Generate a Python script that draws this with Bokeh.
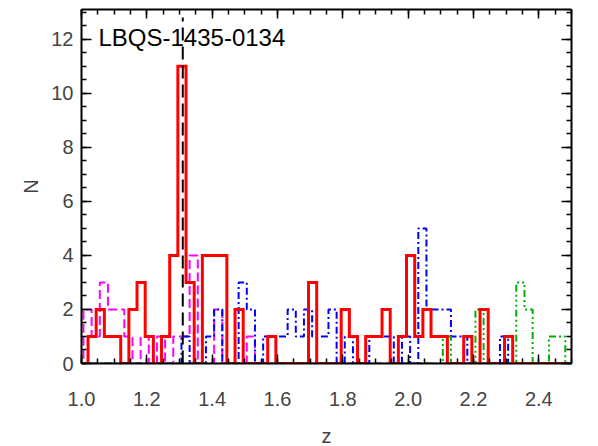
import numpy as np
from bokeh.plotting import figure
from bokeh.models import FixedTicker, LinearAxis, Range1d, Label
from bokeh.embed import file_html
from bokeh.resources import INLINE

# ---------------- data ----------------
bin_width = 0.025

# red (solid, thick) histogram: first bin starts at red_start
red_start = 0.995
red_counts = [0, 1, 2, 1, 1, 0, 2, 3, 1, 0, 1, 4, 11, 3, 0, 4, 4, 4, 0, 2,
              0, 0, 0, 1, 0, 0, 0, 0, 3, 0, 0, 0, 2, 1, 0, 1, 1, 2, 0, 1,
              4, 1, 2, 1, 1, 0, 0, 1, 0, 2, 0, 0, 1, 0, 0, 0, 0, 0, 0, 0, 0]

# magenta (dashed), blue (dash-dot), green (dash-dot-dot-dot) share a grid
grid_start = 0.981
magenta_counts = [0, 2, 1, 3, 2, 2, 1, 0, 1, 0, 1, 0, 1, 1, 4, 0, 0, 2, 0, 0,
                  0, 1, 0, 0, 0, 0, 0, 0, 0, 0, 0, 0, 0, 0, 0, 0, 0, 0, 0, 0,
                  0, 0, 0, 0, 0, 0, 0, 0, 0, 0, 0, 0, 0, 0, 0, 0, 0, 0, 0, 0, 0, 0]
blue_counts = [0, 0, 0, 0, 0, 0, 0, 0, 0, 0, 0, 0, 0, 1, 0, 0, 1, 2, 0, 0,
               3, 2, 0, 1, 1, 1, 2, 1, 2, 1, 1, 2, 0, 1, 0, 0, 1, 1, 1, 0,
               1, 0, 5, 2, 2, 2, 1, 1, 0, 0, 0, 0, 1, 0, 0, 0, 0, 0, 0, 0, 0, 0]
green_counts = [0, 0, 0, 0, 0, 0, 0, 0, 0, 0, 0, 0, 0, 0, 0, 0, 0, 0, 0, 0,
                0, 0, 0, 0, 0, 0, 0, 0, 0, 0, 0, 0, 0, 0, 0, 0, 0, 0, 0, 0,
                0, 0, 0, 0, 0, 1, 0, 0, 0, 2, 0, 0, 0, 0, 3, 2, 0, 0, 1, 1, 0, 0]

qso_name = "LBQS-1435-0134"
qso_z = 1.31
qso_line_top = 12.8

x_ticks = [1.0, 1.2, 1.4, 1.6, 1.8, 2.0, 2.2, 2.4]
x_tick_labels = ["1.0", "1.2", "1.4", "1.6", "1.8", "2.0", "2.2", "2.4"]
y_ticks = [0, 2, 4, 6, 8, 10, 12]
y_tick_labels = ["0", "2", "4", "6", "8", "10", "12"]


def step_xy(start, counts):
    edges = start + bin_width * np.arange(len(counts) + 1)
    xs = np.concatenate([[edges[0]], edges])
    ys = np.concatenate([[0], counts, [0]])
    return xs, ys


FONT = "Liberation Sans"

p = figure(frame_width=490, frame_height=354,
           x_range=Range1d(1.0, 2.5), y_range=Range1d(0, 13.1),
           output_backend="svg", toolbar_location=None,
           min_border_left=81, min_border_right=12,
           min_border_top=9, min_border_bottom=78,
           background_fill_color="white", border_fill_color="white")
p.outline_line_color = None
p.xgrid.visible = False
p.ygrid.visible = False

x_minor = [round(v, 3) for v in np.arange(1.0, 2.5001, 0.05)]
y_minor = [round(v, 2) for v in np.arange(0, 13.1, 0.5)]
xt = FixedTicker(ticks=x_ticks, minor_ticks=x_minor)
yt = FixedTicker(ticks=y_ticks, minor_ticks=y_minor)


def style_axis(ax, major_len, minor_len):
    ax.axis_line_width = 2
    ax.axis_line_color = "black"
    ax.major_tick_in = major_len
    ax.major_tick_out = 0
    ax.minor_tick_in = minor_len
    ax.minor_tick_out = 0
    ax.major_tick_line_width = 1.5
    ax.minor_tick_line_width = 1.5
    ax.major_tick_line_color = "black"
    ax.minor_tick_line_color = "black"


xa = p.xaxis[0]
xa.ticker = xt
xa.major_label_overrides = {t: l for t, l in zip(x_ticks, x_tick_labels)}
xa.axis_label = "z"
style_axis(xa, 9, 5)
xa.major_label_text_font = FONT
xa.major_label_text_font_size = "20px"
xa.major_label_standoff = 28
xa.axis_label_text_font = FONT
xa.axis_label_text_font_size = "20px"
xa.axis_label_text_font_style = "normal"
xa.axis_label_standoff = 16

ya = p.yaxis[0]
ya.ticker = yt
ya.major_label_overrides = {t: l for t, l in zip(y_ticks, y_tick_labels)}
ya.axis_label = "N"
style_axis(ya, 10, 5)
ya.major_label_text_font = FONT
ya.major_label_text_font_size = "20px"
ya.major_label_standoff = 8
ya.axis_label_text_font = FONT
ya.axis_label_text_font_size = "20px"
ya.axis_label_text_font_style = "normal"
ya.axis_label_standoff = 6

top = LinearAxis(ticker=xt, major_label_text_font_size="1px",
                 major_label_text_color=None, major_label_standoff=0)
style_axis(top, 9, 5)
p.add_layout(top, "above")
right = LinearAxis(ticker=yt, major_label_text_font_size="1px",
                   major_label_text_color=None, major_label_standoff=0)
style_axis(right, 10, 5)
p.add_layout(right, "right")

mx, my = step_xy(grid_start, magenta_counts)
p.step(mx, my, mode="after", line_color="#ff00ff", line_width=2, line_dash="9 4")
bx, by = step_xy(grid_start, blue_counts)
p.step(bx, by, mode="after", line_color="#0000ff", line_width=2, line_dash="7 3 2 3")
gx, gy = step_xy(grid_start, green_counts)
p.step(gx, gy, mode="after", line_color="#00b000", line_width=2,
       line_dash="7 3 2 3 2 3 2 3")
rx, ry = step_xy(red_start, red_counts)
p.step(rx, ry, mode="after", line_color="#ff0000", line_width=3, line_join="miter")

p.segment(x0=[qso_z], y0=[0], x1=[qso_z], y1=[qso_line_top],
          line_color="black", line_width=2, line_dash="13 6")

p.add_layout(Label(x=1.052, y=12.07, text=qso_name, text_font=FONT,
                   text_font_size="24px", text_color="black",
                   text_baseline="alphabetic", text_align="left"))

open("out.html", "w").write(file_html(p, INLINE))
